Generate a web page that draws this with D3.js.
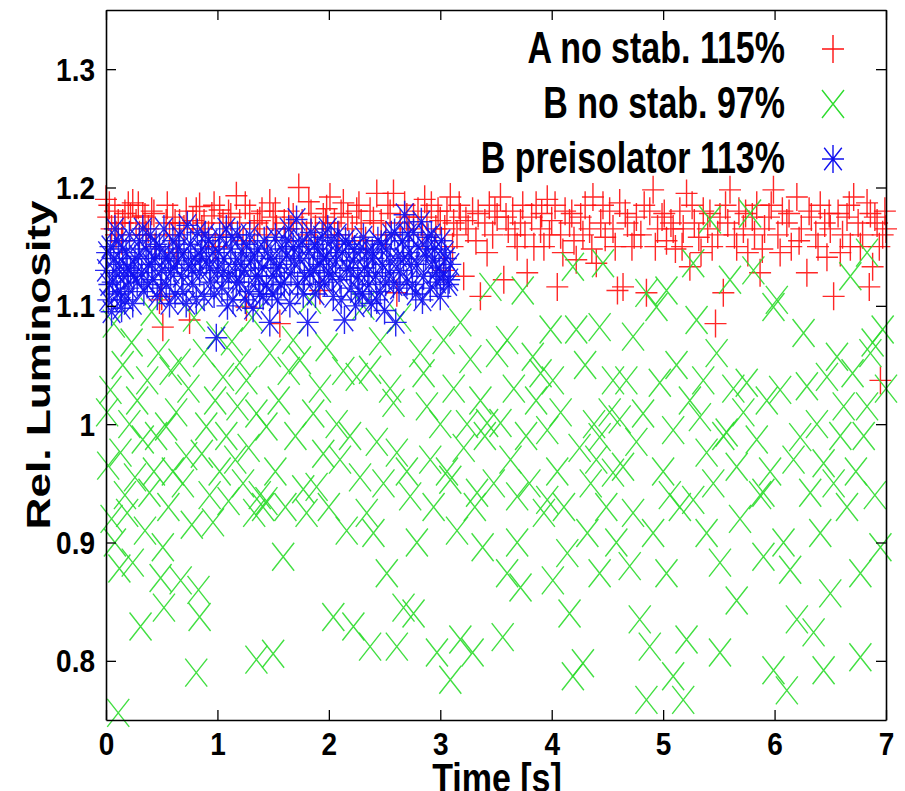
<!DOCTYPE html>
<html lang="en">
<meta charset="utf-8">
<style>
    html, body { margin: 0; padding: 0; background: #fff; }
    svg { display: block; }
    text { font-family: "Liberation Sans", Arial, Helvetica, sans-serif; font-weight: bold; fill: #000; }
</style>
<body>
<svg id="svg" width="905" height="791"></svg>
<script src="https://cdn.jsdelivr.net/npm/d3@7"></script>
<script>
// ---- data: [time (s), relative luminosity] ----
var seriesNames = ["A no stab. 115%", "B no stab. 97%", "B preisolator 113%"];

var pointsA = [
 [0.00,1.19],[0.02,1.175],[0.05,1.165],[0.08,1.18],[0.11,1.17],[0.14,1.155],[0.17,1.178],[0.20,1.185],[0.24,1.187],[0.27,1.17],
 [0.30,1.16],[0.33,1.176],[0.35,1.175],[0.38,1.165],[0.41,1.18],[0.44,1.15],[0.48,1.105],[0.50,1.108],[0.51,1.082],[0.54,1.17],
 [0.57,1.16],[0.60,1.175],[0.63,1.145],[0.66,1.17],[0.70,1.165],[0.75,1.088],[0.78,1.172],[0.81,1.18],[0.84,1.184],[0.88,1.17],
 [0.92,1.16],[0.95,1.176],[0.98,1.15],[1.02,1.181],[1.05,1.17],[1.08,1.16],[1.12,1.175],[1.17,1.193],[1.20,1.17],[1.23,1.155],
 [1.26,1.099],[1.29,1.178],[1.33,1.165],[1.36,1.17],[1.40,1.18],[1.44,1.16],[1.47,1.187],[1.50,1.175],[1.53,1.165],[1.56,1.085],
 [1.60,1.17],[1.64,1.18],[1.68,1.175],[1.73,1.20],[1.76,1.17],[1.80,1.16],[1.84,1.178],[1.88,1.165],[1.92,1.113],[1.95,1.175],
 [1.98,1.182],[2.01,1.192],[2.05,1.17],[2.09,1.16],[2.13,1.187],[2.17,1.175],[2.21,1.165],[2.25,1.18],[2.29,1.17],[2.33,1.155],
 [2.37,1.18],[2.43,1.195],[2.47,1.17],[2.51,1.16],[2.55,1.178],[2.58,1.195],[2.61,1.111],[2.64,1.17],[2.68,1.185],[2.72,1.165],
 [2.76,1.175],[2.80,1.18],[2.84,1.16],[2.88,1.175],[2.92,1.185],[2.96,1.165],[3.00,1.172],[3.03,1.130],[3.06,1.18],[3.09,1.192],
 [3.12,1.17],[3.15,1.16],[3.18,1.175],[3.21,1.125],[3.25,1.165],[3.29,1.18],[3.32,1.155],[3.36,1.108],[3.40,1.17],[3.44,1.185],
 [3.47,1.16],[3.51,1.175],[3.54,1.192],[3.57,1.122],[3.61,1.165],[3.65,1.18],[3.69,1.15],[3.72,1.17],[3.76,1.16],[3.78,1.128],
 [3.82,1.175],[3.86,1.185],[3.90,1.165],[3.93,1.15],[3.96,1.19],[4.00,1.172],[4.05,1.116],[4.08,1.16],[4.12,1.18],[4.16,1.17],
 [4.20,1.155],[4.22,1.139],[4.26,1.175],[4.30,1.185],[4.34,1.165],[4.37,1.192],[4.40,1.136],[4.44,1.17],[4.48,1.158],[4.52,1.18],
 [4.55,1.165],[4.59,1.113],[4.61,1.187],[4.64,1.116],[4.68,1.17],[4.72,1.15],[4.76,1.175],[4.80,1.16],[4.85,1.111],[4.88,1.18],
 [4.91,1.198],[4.95,1.165],[4.99,1.175],[5.03,1.155],[5.07,1.17],[5.11,1.148],[5.15,1.18],[5.18,1.165],[5.21,1.195],[5.24,1.133],
 [5.28,1.17],[5.32,1.158],[5.36,1.18],[5.40,1.165],[5.44,1.15],[5.47,1.085],[5.51,1.175],[5.54,1.111],[5.58,1.17],[5.60,1.198],
 [5.64,1.16],[5.68,1.18],[5.72,1.165],[5.76,1.145],[5.80,1.175],[5.84,1.185],[5.87,1.128],[5.91,1.165],[5.95,1.175],[5.99,1.198],
 [6.03,1.16],[6.07,1.18],[6.11,1.17],[6.15,1.15],[6.20,1.192],[6.24,1.165],[6.29,1.128],[6.33,1.175],[6.37,1.16],[6.41,1.185],
 [6.45,1.17],[6.47,1.141],[6.50,1.165],[6.53,1.108],[6.57,1.178],[6.61,1.16],[6.65,1.175],[6.68,1.15],[6.71,1.192],[6.75,1.17],
 [6.79,1.16],[6.83,1.187],[6.85,1.116],[6.88,1.133],[6.90,1.175],[6.92,1.17],[6.95,1.037],[6.97,1.16],[7.00,1.165],
 [0.03,1.185],[0.09,1.16],[0.15,1.17],[0.22,1.175],[0.29,1.185],[0.36,1.16],[0.43,1.178],[0.55,1.185],[0.62,1.17],[0.72,1.18],
 [0.86,1.165],[0.97,1.185],[1.10,1.178],[1.25,1.185],[1.38,1.172],[1.52,1.18],[1.66,1.165],[1.82,1.188],[1.97,1.17],[2.11,1.178],
 [2.27,1.185],[2.40,1.172],[2.53,1.185],[2.70,1.175],[2.86,1.19],[2.98,1.18],[3.04,1.165],[3.11,1.15],[3.17,1.185],[3.23,1.172],
 [3.34,1.178],[3.42,1.145],[3.49,1.18],[3.59,1.175],[3.67,1.16],[3.74,1.185],[3.84,1.15],[3.91,1.178],[3.98,1.16],[4.03,1.185],
 [4.10,1.145],[4.18,1.178],[4.28,1.16],[4.36,1.148],[4.46,1.185],[4.57,1.15],[4.66,1.178],[4.74,1.16],[4.83,1.185],[4.93,1.15],
 [5.01,1.178],[5.09,1.165],[5.17,1.15],[5.26,1.185],[5.34,1.145],[5.42,1.178],[5.49,1.16],[5.56,1.185],[5.66,1.15],[5.74,1.178],
 [5.82,1.16],[5.89,1.148],[5.97,1.185],[6.05,1.145],[6.13,1.178],[6.22,1.155],[6.31,1.18],[6.39,1.15],[6.49,1.178],[6.59,1.145],
 [6.67,1.185],[6.77,1.15],[6.86,1.178],[6.94,1.15],[6.99,1.18]
];

var pointsB = [
 [0.01,1.01],[0.02,0.965],[0.04,1.029],[0.05,0.92],[0.07,1.085],[0.08,0.90],[0.11,0.756],[0.12,0.878],[0.13,0.976],[0.15,1.05],
 [0.17,0.94],[0.19,0.925],[0.21,1.0],[0.23,1.069],[0.24,0.883],[0.26,0.955],[0.28,1.02],[0.31,0.829],[0.33,0.987],[0.35,0.91],
 [0.37,1.037],[0.39,0.942],[0.41,1.095],[0.43,0.96],[0.45,0.99],[0.47,1.06],[0.49,0.87],[0.51,0.896],[0.52,0.845],[0.54,0.998],
 [0.56,0.93],[0.58,1.045],[0.60,0.96],[0.63,1.01],[0.66,1.052],[0.67,0.868],[0.69,0.95],[0.72,0.973],[0.74,1.03],[0.77,0.915],
 [0.79,1.09],[0.81,0.79],[0.83,0.86],[0.84,0.837],[0.86,0.975],[0.88,1.06],[0.90,0.998],[0.93,0.94],[0.96,0.917],[0.98,1.02],
 [1.00,1.075],[1.02,0.96],[1.05,1.04],[1.08,0.99],[1.10,0.935],[1.13,1.07],[1.16,0.97],[1.18,1.015],[1.20,1.052],[1.23,0.95],
 [1.26,1.037],[1.28,0.98],[1.31,1.09],[1.33,0.925],[1.35,1.009],[1.35,0.801],[1.38,0.94],[1.41,0.93],[1.44,0.998],[1.44,0.935],
 [1.47,1.06],[1.50,0.806],[1.52,0.96],[1.55,1.02],[1.59,0.888],[1.61,0.93],[1.64,1.045],[1.68,1.071],[1.70,0.99],[1.74,1.054],
 [1.77,0.945],[1.80,0.925],[1.83,1.105],[1.86,1.009],[1.89,0.947],[1.92,1.03],[1.95,0.975],[1.98,1.065],[2.00,0.93],[2.04,0.837],
 [2.07,1.0],[2.10,0.97],[2.13,1.045],[2.16,0.91],[2.19,0.99],[2.22,0.829],[2.25,1.04],[2.28,0.955],[2.31,1.1],[2.34,0.925],
 [2.37,1.046],[2.37,0.812],[2.40,0.908],[2.43,0.985],[2.46,1.07],[2.49,0.95],[2.52,0.874],[2.55,1.03],[2.58,1.018],[2.61,0.976],
 [2.61,0.812],[2.64,1.09],[2.67,0.845],[2.70,0.96],[2.73,0.939],[2.76,0.84],[2.79,0.9],[2.82,1.06],[2.85,1.043],[2.88,1.015],
 [2.91,0.97],[2.94,0.93],[2.97,0.807],[3.00,1.0],[3.03,1.071],[3.06,0.96],[3.09,0.953],[3.09,0.784],[3.12,1.03],[3.15,0.91],
 [3.18,1.086],[3.18,0.818],[3.21,0.98],[3.24,1.0],[3.27,1.055],[3.29,0.807],[3.31,0.93],[3.33,0.942],[3.36,1.02],[3.38,0.896],
 [3.40,0.99],[3.42,1.001],[3.45,1.116],[3.48,0.95],[3.51,1.06],[3.54,1.001],[3.56,0.82],[3.60,1.071],[3.60,0.874],[3.63,0.97],
 [3.66,1.03],[3.69,0.939],[3.69,0.9],[3.72,0.862],[3.74,1.113],[3.77,0.99],[3.80,0.95],[3.83,1.057],[3.86,1.02],[3.90,1.043],
 [3.93,0.925],[3.96,0.995],[3.96,0.936],[3.99,1.08],[4.01,1.037],[4.01,0.868],[4.05,0.96],[4.08,1.01],[4.11,0.93],[4.14,0.891],
 [4.16,0.84],[4.19,1.133],[4.19,0.787],[4.22,1.08],[4.25,0.98],[4.28,0.798],[4.30,1.05],[4.32,0.908],[4.35,0.95],[4.38,1.0],
 [4.40,0.97],[4.43,1.082],[4.43,0.989],[4.43,0.874],[4.46,1.136],[4.49,0.93],[4.52,1.01],[4.55,1.037],[4.55,0.959],[4.58,0.9],
 [4.61,1.004],[4.64,0.964],[4.67,1.037],[4.70,0.88],[4.73,1.074],[4.73,0.925],[4.76,0.985],[4.79,0.835],[4.82,1.009],[4.85,1.111],
 [4.85,0.767],[4.88,0.812],[4.91,0.908],[4.94,1.099],[4.97,1.035],[5.00,0.96],[5.03,1.113],[5.03,0.874],[5.06,0.94],[5.09,0.995],
 [5.09,0.787],[5.12,1.05],[5.15,0.93],[5.18,0.767],[5.21,0.818],[5.24,1.02],[5.27,1.136],[5.27,0.936],[5.30,1.088],[5.33,1.006],
 [5.36,1.037],[5.39,0.976],[5.39,0.908],[5.42,1.173],[5.45,0.95],[5.48,1.06],[5.51,0.883],[5.51,0.807],[5.54,0.99],[5.57,0.993],
 [5.60,1.122],[5.63,1.03],[5.66,0.964],[5.66,0.851],[5.69,0.92],[5.72,1.01],[5.75,1.035],[5.78,1.178],[5.81,1.13],[5.84,0.987],
 [5.87,0.94],[5.90,0.942],[5.90,0.888],[5.93,1.02],[5.96,0.96],[5.99,1.099],[5.99,0.792],[6.02,1.105],[6.05,1.029],[6.08,0.9],
 [6.11,0.775],[6.14,0.877],[6.17,0.97],[6.20,0.835],[6.23,0.989],[6.26,1.077],[6.29,1.032],[6.32,0.942],[6.35,0.824],[6.38,1.0],
 [6.41,0.908],[6.44,0.967],[6.44,0.792],[6.47,1.04],[6.50,0.857],[6.53,0.95],[6.56,1.057],[6.59,0.99],[6.62,1.015],[6.65,0.93],
 [6.68,1.125],[6.70,1.043],[6.73,0.96],[6.77,0.874],[6.77,0.803],[6.80,0.99],[6.83,1.015],[6.83,1.145],[6.86,1.06],[6.88,1.069],
 [6.90,0.94],[6.95,0.896],[6.97,1.08],[7.00,1.03]
];

var pointsP = [
 [0.00,1.13],[0.02,1.105],[0.04,1.15],[0.06,1.12],[0.08,1.165],[0.10,1.11],[0.12,1.135],[0.14,1.098],[0.16,1.125],[0.18,1.145],
 [0.20,1.115],[0.22,1.13],[0.24,1.102],[0.26,1.14],[0.28,1.12],[0.30,1.155],[0.32,1.128],[0.34,1.112],[0.36,1.148],[0.38,1.135],
 [0.40,1.16],[0.42,1.122],[0.44,1.14],[0.46,1.108],[0.48,1.15],[0.50,1.13],[0.52,1.165],[0.54,1.118],[0.56,1.142],[0.58,1.128],
 [0.60,1.155],[0.62,1.11],[0.64,1.138],[0.66,1.16],[0.68,1.125],[0.70,1.145],[0.72,1.102],[0.74,1.135],[0.76,1.152],[0.78,1.118],
 [0.80,1.14],[0.82,1.162],[0.84,1.128],[0.86,1.148],[0.88,1.108],[0.90,1.138],[0.92,1.155],[0.94,1.12],[0.96,1.145],[0.99,1.073],
 [1.00,1.13],[1.02,1.158],[1.04,1.115],[1.06,1.14],[1.08,1.165],[1.10,1.125],[1.12,1.148],[1.14,1.105],[1.16,1.135],[1.18,1.16],
 [1.20,1.12],[1.22,1.145],[1.24,1.13],[1.26,1.152],[1.28,1.112],[1.30,1.138],[1.32,1.098],[1.34,1.125],[1.36,1.148],[1.38,1.11],
 [1.40,1.132],[1.42,1.155],[1.44,1.118],[1.47,1.086],[1.48,1.14],[1.50,1.125],[1.52,1.158],[1.54,1.105],[1.56,1.135],[1.58,1.148],
 [1.60,1.12],[1.62,1.142],[1.64,1.165],[1.66,1.128],[1.68,1.15],[1.71,1.173],[1.72,1.118],[1.74,1.14],[1.76,1.155],[1.78,1.125],
 [1.81,1.086],[1.82,1.145],[1.84,1.162],[1.86,1.13],[1.88,1.11],[1.90,1.148],[1.92,1.135],[1.94,1.158],[1.96,1.12],[1.98,1.142],
 [2.00,1.128],[2.02,1.155],[2.04,1.108],[2.06,1.138],[2.08,1.16],[2.10,1.122],[2.12,1.145],[2.14,1.088],[2.16,1.132],[2.18,1.152],
 [2.20,1.115],[2.22,1.138],[2.24,1.10],[2.26,1.125],[2.28,1.148],[2.30,1.11],[2.32,1.132],[2.34,1.145],[2.36,1.118],[2.38,1.102],
 [2.40,1.14],[2.42,1.125],[2.44,1.155],[2.46,1.112],[2.48,1.135],[2.50,1.096],[2.52,1.148],[2.54,1.128],[2.56,1.16],[2.58,1.118],
 [2.60,1.086],[2.62,1.142],[2.64,1.13],[2.66,1.155],[2.68,1.177],[2.70,1.12],[2.72,1.145],[2.74,1.135],[2.76,1.162],[2.78,1.11],
 [2.80,1.15],[2.83,1.171],[2.85,1.125],[2.87,1.142],[2.89,1.158],[2.91,1.115],[2.93,1.138],[2.95,1.148],[2.97,1.12],[2.99,1.132],
 [3.01,1.155],[3.03,1.125],[3.05,1.14],[3.07,1.118],[3.09,1.135],
 [0.01,1.145],[0.03,1.118],[0.05,1.095],[0.07,1.14],[0.09,1.128],[0.11,1.155],[0.13,1.112],[0.15,1.148],[0.17,1.105],[0.19,1.132],
 [0.21,1.16],[0.25,1.125],[0.29,1.142],[0.33,1.165],[0.37,1.118],[0.41,1.135],[0.45,1.152],[0.49,1.115],[0.53,1.14],[0.57,1.102],
 [0.61,1.132],[0.65,1.148],[0.69,1.112],[0.73,1.168],[0.77,1.13],[0.81,1.105],[0.85,1.142],[0.89,1.16],[0.93,1.132],[0.97,1.11],
 [1.01,1.145],[1.05,1.128],[1.09,1.10],[1.13,1.158],[1.17,1.12],[1.21,1.135],[1.25,1.105],[1.29,1.16],[1.33,1.142],[1.37,1.125],
 [1.41,1.108],[1.45,1.145],[1.49,1.11],[1.53,1.132],[1.57,1.118],[1.61,1.155],[1.65,1.102],[1.69,1.138],[1.73,1.15],[1.77,1.11],
 [1.83,1.128],[1.87,1.152],[1.91,1.118],[1.95,1.14],[1.99,1.165],[2.03,1.125],[2.07,1.145],[2.11,1.105],[2.15,1.155],[2.19,1.13],
 [2.23,1.148],[2.27,1.112],[2.31,1.158],[2.35,1.128],[2.39,1.145],[2.43,1.105],[2.47,1.152],[2.51,1.12],[2.55,1.138],[2.59,1.162],
 [2.63,1.115],[2.67,1.14],[2.71,1.16],[2.75,1.118],[2.79,1.135],[2.84,1.105],[2.88,1.148],[2.92,1.16],[2.96,1.128],[3.00,1.108],
 [3.04,1.145],[3.08,1.122]
];

var xTicks = [0, 1, 2, 3, 4, 5, 6, 7];
var xTickLabels = ["0", "1", "2", "3", "4", "5", "6", "7"];
var yTicks = [0.8, 0.9, 1.0, 1.1, 1.2, 1.3];
var yTickLabels = ["0.8", "0.9", "1", "1.1", "1.2", "1.3"];

// ---- layout ----
var svg = d3.select("svg"),
    margin = {top: 10, right: 19, bottom: 71, left: 106},
    width = +svg.attr("width"),
    height = +svg.attr("height");

var x = d3.scaleLinear().domain([0, 7]).range([margin.left, width - margin.right]);
var y = d3.scaleLinear().domain([0.75, 1.35]).range([height - margin.bottom, margin.top]);

var colors = ["#ff1010", "#2edc2e", "#1010f0"];
var hx = 11, hy = 14;   // marker half sizes (picture is stretched vertically)

function plusPath(w, h) { return "M" + (-w) + ",0H" + w + "M0," + (-h) + "V" + h; }
function crossPath(w, h) { return "M" + (-w) + "," + (-h) + "L" + w + "," + h + "M" + (-w) + "," + h + "L" + w + "," + (-h); }
var shapes = [plusPath(hx, hy), crossPath(hx, hy), plusPath(hx, hy) + crossPath(hx * 0.8, hy * 0.8)];

// ---- points (red, green, blue in gnuplot order) ----
[pointsA, pointsB, pointsP].forEach(function(pts, i) {
    svg.append("g")
        .selectAll("path").data(pts).enter().append("path")
        .attr("transform", d => "translate(" + x(d[0]) + "," + y(d[1]) + ")")
        .attr("d", shapes[i])
        .attr("fill", "none")
        .attr("stroke", colors[i])
        .attr("stroke-width", 1.4)
        .attr("stroke-opacity", 0.9);
});

// ---- axes, ticks inward and mirrored ----
function styleAxis(g) {
    g.select(".domain").attr("stroke", "#000").attr("stroke-width", 1.6);
    g.selectAll(".tick line").attr("stroke", "#000").attr("stroke-width", 1.3);
}

svg.append("g")
    .attr("transform", "translate(0," + y.range()[0] + ")")
    .call(d3.axisBottom(x).tickValues(xTicks).tickFormat((d, i) => xTickLabels[i]).tickSizeInner(-10).tickSizeOuter(0))
    .call(styleAxis)
    .call(g => g.selectAll(".tick text")
        .attr("y", 0).attr("dy", null)
        .attr("transform", "translate(0,35) scale(1,1.15)")
        .attr("font-size", 28).attr("font-family", null).attr("fill", "#000"));

svg.append("g")
    .attr("transform", "translate(0," + y.range()[1] + ")")
    .call(d3.axisTop(x).tickValues(xTicks).tickFormat("").tickSizeInner(-10).tickSizeOuter(0))
    .call(styleAxis);

svg.append("g")
    .attr("transform", "translate(" + x.range()[0] + ",0)")
    .call(d3.axisLeft(y).tickValues(yTicks).tickFormat((d, i) => yTickLabels[i]).tickSizeInner(-10).tickSizeOuter(0))
    .call(styleAxis)
    .call(g => g.selectAll(".tick text")
        .attr("x", 0).attr("dy", null)
        .attr("transform", "translate(-11,11) scale(1,1.12)")
        .attr("font-size", 28).attr("font-family", null).attr("fill", "#000"));

svg.append("g")
    .attr("transform", "translate(" + x.range()[1] + ",0)")
    .call(d3.axisRight(y).tickValues(yTicks).tickFormat("").tickSizeInner(-10).tickSizeOuter(0))
    .call(styleAxis);

// ---- axis titles ----
svg.append("text")
    .attr("transform", "translate(50,365) scale(1,1.3) rotate(-90)")
    .attr("text-anchor", "middle")
    .attr("font-size", 34)
    .text("Rel. Luminosity");

svg.append("text")
    .attr("transform", "translate(497,792) scale(1,1.22)")
    .attr("text-anchor", "middle")
    .attr("font-size", 34)
    .text("Time [s]");

// ---- legend ----
var legendBase = [63, 118, 173];
var legend = svg.append("g");
seriesNames.forEach(function(name, i) {
    legend.append("text")
        .attr("transform", "translate(785," + legendBase[i] + ") scale(1,1.28)")
        .attr("text-anchor", "end")
        .attr("font-size", 34)
        .text(name);
    legend.append("path")
        .attr("transform", "translate(833," + (legendBase[i] - 14) + ")")
        .attr("d", shapes[i])
        .attr("fill", "none")
        .attr("stroke", colors[i])
        .attr("stroke-width", 1.4);
});
</script>
</body>
</html>
